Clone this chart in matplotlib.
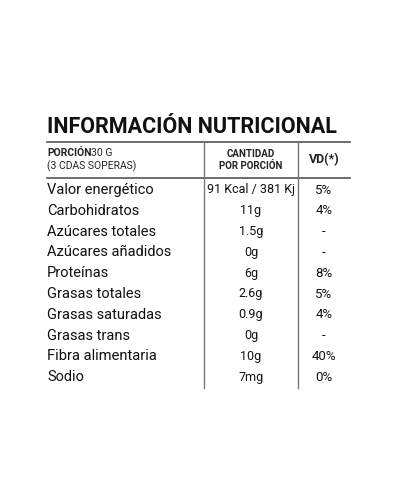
import matplotlib
matplotlib.use("Agg")
import matplotlib.pyplot as plt

nutrients = ["Valor energético", "Carbohidratos", "Azúcares totales", "Azúcares añadidos",
             "Proteínas", "Grasas totales", "Grasas saturadas", "Grasas trans",
             "Fibra alimentaria", "Sodio"]
amounts = ["91 Kcal / 381 Kj", "11g", "1.5g", "0g", "6g", "2.6g", "0.9g", "0g", "10g", "7mg"]
vd = ["5%", "4%", "-", "-", "8%", "5%", "4%", "-", "40%", "0%"]

FAM = ["Roboto", "DejaVu Sans"]
fig = plt.figure(figsize=(4, 5), dpi=100)
ax = fig.add_axes([0, 0, 1, 1])
ax.set_xlim(0, 400); ax.set_ylim(500, 0); ax.axis("off")

ax.text(47, 127, "INFORMACIÓN NUTRICIONAL", family=FAM, fontsize=15.5, fontweight="bold",
        va="center", ha="left", color="#111")
ax.plot([47, 350], [142, 142], color="#555", lw=1.2)
ax.plot([47, 350], [178, 178], color="#555", lw=1.2)
for x in (204, 298):
    ax.plot([x, x], [143, 388], color="#777", lw=1.0)

ax.text(47, 153, "PORCIÓN", family=FAM, fontsize=7.5, fontweight="bold", va="center", ha="left", color="#222")
ax.text(91, 153, "30 G", family=FAM, fontsize=7.5, va="center", ha="left", color="#222")
ax.text(47, 166, "(3 CDAS SOPERAS)", family=FAM, fontsize=7.5, va="center", ha="left", color="#222")
ax.text(251, 160, "CANTIDAD\nPOR PORCIÓN", family=FAM, fontsize=7, fontweight="bold",
        va="center", ha="center", linespacing=1.2, color="#222")
ax.text(324, 160, "VD(*)", family=FAM, fontsize=9, fontweight="bold", va="center", ha="center", color="#222")

y0, dy = 190, 20.8
for i, (n, a, v) in enumerate(zip(nutrients, amounts, vd)):
    y = y0 + i * dy
    ax.text(47, y, n, family=FAM, fontsize=10.5, va="center", ha="left", color="#111")
    ax.text(251, y, a, family=FAM, fontsize=9, va="center", ha="center", color="#111")
    ax.text(324, y, v, family=FAM, fontsize=9.5, va="center", ha="center", color="#111")

fig.savefig("out.png", dpi=100, facecolor="white")
